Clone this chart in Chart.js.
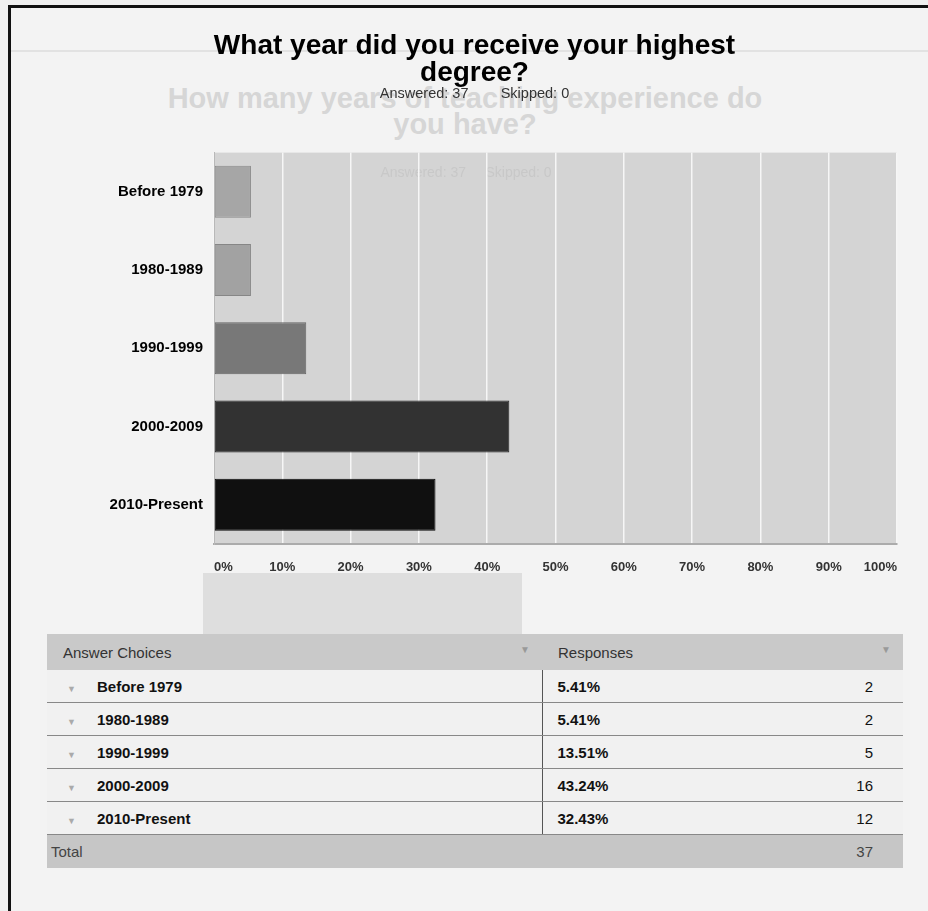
<!doctype html>
<html lang="en">
  <head>
    <meta charset="utf-8">
    <title>Highest degree year</title>
    <script src="https://cdn.jsdelivr.net/npm/chart.js@4.4.1/dist/chart.umd.min.js"></script>
    <style>
      body { margin: 0; background: #efefef; font-family: Arial, "Liberation Sans", sans-serif; }
      #page { position: relative; width: 928px; height: 911px; overflow: hidden; }
      #frame { position: absolute; left: 8px; top: 5px; width: 960px; height: 960px;
               border-left: 3px solid #111; border-top: 3px solid #111; background: #f3f3f3; }
      .back { position: absolute; left: 65px; width: 800px; text-align: center; color: #d6d6d6;
              font-weight: bold; font-size: 29px; white-space: nowrap; }
      #backLine { position: absolute; left: 11px; right: 0; top: 50px; height: 2px; background: #e2e2e2; }
      #backBox { position: absolute; left: 203px; top: 573px; width: 319px; height: 68px; background: #dedede; }
      #chart { position: absolute; left: 0; top: 0; }
      table { position: absolute; left: 47px; top: 634px; width: 856px; border-collapse: collapse;
              font-size: 15px; color: #111; }
      th { background: #c9c9c9; height: 36px; text-align: left; font-weight: normal; color: #333;
           font-size: 15px; padding: 0 0 0 16px; }
      th .arr { float: right; color: #999; margin-right: 12px; font-size: 10px; }
      td { height: 32px; border-bottom: 1px solid #888; padding: 0; background: #f1f1f1; }
      td.c1 { padding-left: 20px; font-weight: bold; border-right: 1px solid #555; }
      td.c1 .arr { color: #aaa; font-size: 9px; display: inline-block; width: 30px; font-weight: normal; }
      td.c2 { padding-left: 15px; font-weight: bold; }
      td.c3 { text-align: right; padding-right: 30px; }
      tr.total td { background: #c6c6c6; border-bottom: none; font-weight: normal; color: #444; height: 33px; }
      tr.total td.c1 { padding-left: 4px; border-right: none; }
    </style>
  </head>
  <body>
    <div id="page">
      <div id="frame"></div>
      <div id="backLine"></div>
      <div class="back" style="top:82px;">How many years of teaching experience do</div>
      <div class="back" style="top:108px;">you have?</div>
      <div id="backBox"></div>
      <canvas id="chart" width="928" height="600"></canvas>
      <table id="answers"></table>
    </div>
    <script>
      const categories = ['Before 1979', '1980-1989', '1990-1999', '2000-2009', '2010-Present'];
      const percents = [5.41, 5.41, 13.51, 43.24, 32.43];
      const counts = [2, 2, 5, 16, 12];
      const total = 37;
      const skipped = 0;
      const barColors = ['#a6a6a6', '#a2a2a2', '#787878', '#323232', '#101010'];
      const barEdges = ['#8a8a8a', '#868686', '#666666', '#262626', '#0a0a0a'];

      const font = 'Arial, "Liberation Sans", sans-serif';

      // grey plot panel behind the bars, faint echo text on it
      const panel = {
        id: 'panel',
        beforeDraw(chart) {
          const { ctx, chartArea: a } = chart;
          ctx.save();
          ctx.fillStyle = '#d4d4d4';
          ctx.fillRect(a.left, a.top, a.right - a.left, a.bottom - a.top);
          ctx.fillStyle = '#c8c8c8';
          ctx.font = '14px ' + font;
          ctx.textAlign = 'center';
          ctx.fillText('Answered: 37     Skipped: 0', 466, 177);
          ctx.restore();
        }
      };

      new Chart(document.getElementById('chart'), {
        type: 'bar',
        data: {
          labels: categories,
          datasets: [{
            data: percents,
            backgroundColor: barColors,
            borderColor: barEdges,
            borderWidth: 1,
            borderSkipped: false,
            categoryPercentage: 0.8,
            barPercentage: 0.83
          }]
        },
        options: {
          indexAxis: 'y',
          responsive: false,
          animation: false,
          devicePixelRatio: 1,
          layout: { padding: { top: 0, left: 52, right: 31, bottom: 26 } },
          plugins: {
            legend: { display: false },
            tooltip: { enabled: false },
            title: {
              display: true,
              text: ['What year did you receive your highest', 'degree?'],
              color: '#000',
              font: { family: font, size: 28, weight: 'bold', lineHeight: 0.95 },
              padding: { top: 33, bottom: 0 }
            },
            subtitle: {
              display: true,
              text: 'Answered: 37        Skipped: ' + skipped,
              color: '#333',
              font: { family: font, size: 14.5 },
              padding: { top: -1, bottom: 50 }
            }
          },
          scales: {
            x: {
              min: 0,
              max: 100,
              ticks: {
                stepSize: 10,
                align: 'inner',
                padding: 16,
                color: '#333',
                font: { family: font, size: 13, weight: 'bold' },
                callback: v => v + '%'
              },
              grid: { color: '#f6f6f6', lineWidth: 1.5, drawTicks: false },
              border: { color: '#ababab', width: 2 },
              afterFit: axis => { axis.height = 30; }
            },
            y: {
              ticks: {
                padding: 11,
                color: '#000',
                font: { family: font, size: 15, weight: 'bold' }
              },
              grid: { display: false, drawTicks: false },
              border: { color: '#b8b8b8', width: 1 },
              afterFit: axis => { axis.width = 162; }
            }
          }
        },
        plugins: [panel]
      });

      // response table under the chart
      const table = document.getElementById('answers');
      let html = '<tr><th style="width:479px">Answer Choices<span class="arr">&#9660;</span></th>' +
                 '<th colspan="2">Responses<span class="arr">&#9660;</span></th></tr>';
      categories.forEach((c, i) => {
        html += '<tr><td class="c1"><span class="arr">&#9660;</span>' + c + '</td>' +
                '<td class="c2">' + percents[i].toFixed(2) + '%</td>' +
                '<td class="c3">' + counts[i] + '</td></tr>';
      });
      html += '<tr class="total"><td class="c1">Total</td><td></td><td class="c3">' + total + '</td></tr>';
      table.innerHTML = html;
    </script>
  </body>
</html>
